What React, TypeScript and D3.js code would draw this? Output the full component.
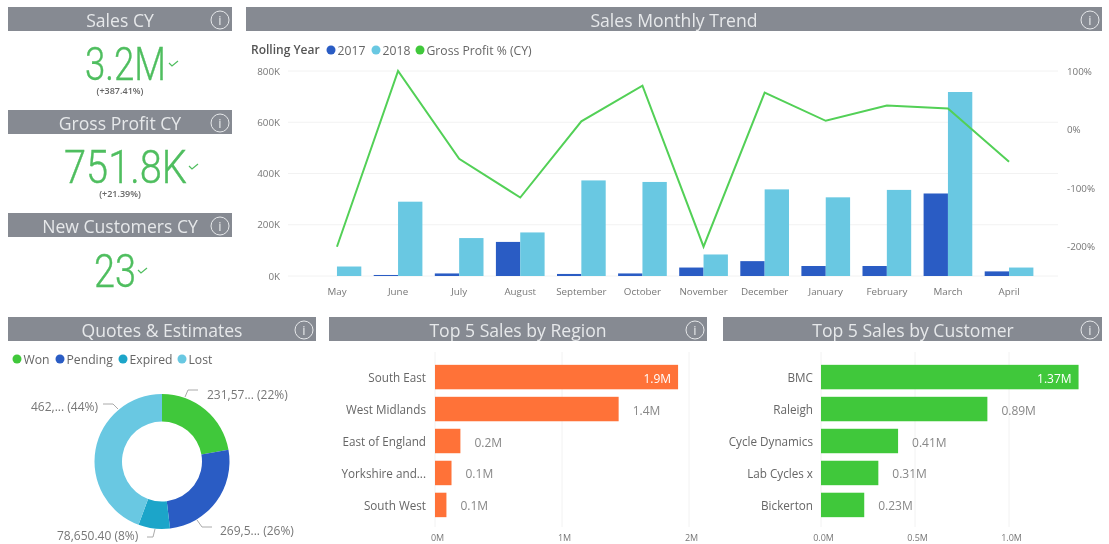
// Sales dashboard, drawn with D3 into one svg
import React, { useRef, useEffect } from 'react';
import * as d3 from 'd3';

const months = ["May", "June", "July", "August", "September", "October", "November", "December", "January", "February", "March", "April"];
const sales2017 = [0, 4, 10, 133, 8, 10, 33, 58, 39, 39, 322, 18];
const sales2018 = [37, 290, 148, 170, 373, 367, 84, 338, 307, 336, 718, 33];
const grossProfitPct = [-200, 100, -50, -116, 14, 75, -200, 63, 15, 41, 36, -55];
const salesTicks = [0, 200, 400, 600, 800];
const pctTicks = [-200, -100, 0, 100];

const quoteNames = ["Won", "Pending", "Expired", "Lost"];
const quoteValues = [231570, 269500, 78650.4, 462000];
const quoteColors = ["#41c83a", "#2a5cc4", "#1aa5c9", "#69c8e2"];

const regions = ["South East", "West Midlands", "East of England", "Yorkshire and...", "South West"];
const regionSales = [1.914, 1.446, 0.2, 0.13, 0.09];
const regionLabels = ["1.9M", "1.4M", "0.2M", "0.1M", "0.1M"];
const regionTicks = [0, 1, 2];

const customers = ["BMC", "Raleigh", "Cycle Dynamics", "Lab Cycles x", "Bickerton"];
const customerSales = [1.37, 0.885, 0.41, 0.305, 0.23];
const customerLabels = ["1.37M", "0.89M", "0.41M", "0.31M", "0.23M"];
const customerTicks = [0, 0.5, 1];

const FONT = "'Open Sans', sans-serif";
const TITLE = "#e6e8ea";
const BAND = "#868a92";
const BLUE = "#2a5cc4";
const SKY = "#69c8e2";
const GREEN = "#41c83a";
const KPI_GREEN = "#4fbe5f";
const GRID = "#f2f2f2";

const header = (g, title, x, y, w, titleX) => {
    g.append("rect").attr("x", x).attr("y", y).attr("width", w).attr("height", 24).attr("fill", BAND);
    g.append("text").attr("x", titleX).attr("y", y + 19.5).attr("text-anchor", "middle")
        .attr("font-size", 17.6).attr("fill", TITLE).text(title);
    // info icon
    g.append("circle").attr("cx", x + w - 12).attr("cy", y + 13).attr("r", 9)
        .attr("fill", "none").attr("stroke", TITLE).attr("stroke-width", 1);
    g.append("text").attr("x", x + w - 12).attr("y", y + 18).attr("text-anchor", "middle")
        .attr("font-size", 13).attr("fill", TITLE).text("i");
};

const kpi = (g, value, delta, cx, baseline, width, checkX, sub) => {
    g.append("text").attr("x", cx).attr("y", baseline).attr("text-anchor", "middle")
        .attr("font-family", "Roboto, sans-serif").attr("font-weight", 300).attr("font-size", 47)
        .attr("textLength", width).attr("lengthAdjust", "spacingAndGlyphs")
        .attr("stroke", KPI_GREEN).attr("stroke-width", 0.4)
        .attr("fill", KPI_GREEN).text(value);
    g.append("path")
        .attr("d", `M${checkX},${baseline - 17} l3,3 l6,-5`)
        .attr("fill", "none").attr("stroke", KPI_GREEN).attr("stroke-width", 1.2);
    if (delta) {
        g.append("text").attr("x", sub).attr("y", baseline + 14).attr("text-anchor", "middle")
            .attr("font-size", 9).attr("font-weight", 600).attr("fill", "#666").text(delta);
    }
};

const legendItem = (g, x, y, color, label, size = 12.2) => {
    g.append("circle").attr("cx", x).attr("cy", y).attr("r", 4.5).attr("fill", color);
    g.append("text").attr("x", x + 6.5).attr("y", y + 4.5).attr("font-size", size).attr("fill", "#666").text(label);
};

const hBars = (g, names, values, labels, ticks, tickFmt, color, x0, x1, domainMax, labelEnd) => {
    const x = d3.scaleLinear().domain([0, domainMax]).range([x0, x1]);
    const y = d3.scaleBand().domain(names).range([361, 521]).paddingInner(0.235).paddingOuter(0.12);

    g.append("g").selectAll("line").data(ticks).enter().append("line")
        .attr("x1", d => x(d)).attr("x2", d => x(d)).attr("y1", 352).attr("y2", 527)
        .attr("stroke", GRID);

    g.append("g").selectAll("rect").data(names).enter().append("rect")
        .attr("x", x0).attr("y", d => y(d))
        .attr("width", (d, i) => x(values[i]) - x0)
        .attr("height", y.bandwidth())
        .attr("fill", color);

    // axes, with the lines removed
    const left = g.append("g").attr("transform", `translate(${labelEnd + 6},1)`)
        .call(d3.axisLeft(y).tickSize(0).tickPadding(6));
    left.select(".domain").remove();
    left.selectAll("text").attr("font-family", FONT).attr("font-size", 11.7).attr("fill", "#666");

    const bottom = g.append("g").attr("transform", "translate(2,534.5)")
        .call(d3.axisBottom(x).tickValues(ticks).tickFormat(tickFmt).tickSize(0).tickPadding(0));
    bottom.select(".domain").remove();
    bottom.selectAll("text").attr("font-family", FONT).attr("font-size", 9).attr("fill", "#777");

    g.append("g").selectAll("text").data(names).enter().append("text")
        .attr("x", (d, i) => i === 0 ? x(values[i]) - 7 : x(values[i]) + 14)
        .attr("y", d => y(d) + y.bandwidth() / 2 + 5.5)
        .attr("text-anchor", (d, i) => i === 0 ? "end" : "start")
        .attr("font-size", 12)
        .attr("fill", (d, i) => i === 0 ? "#fff" : "#888")
        .text((d, i) => labels[i]);
};

const App = () => {
    const ref = useRef<SVGSVGElement>(null);

    useEffect(() => {
        const svg = d3.select(ref.current);
        svg.selectAll("*").remove();

        // the reference is a soft screenshot, so a slight blur on everything
        svg.append("defs").append("filter").attr("id", "soft")
            .append("feGaussianBlur").attr("stdDeviation", 0.7);
        const root = svg.append("g").attr("font-family", FONT).attr("filter", "url(#soft)");
        root.append("rect").attr("width", 1109).attr("height", 544).attr("fill", "#fff");

        // KPI cards
        header(root, "Sales CY", 8, 7, 224, 120);
        kpi(root, "3.2M", "(+387.41%)", 125.5, 80, 81, 169, 120);
        header(root, "Gross Profit CY", 8, 110, 224, 120);
        kpi(root, "751.8K", "(+21.39%)", 125.5, 183, 123, 189, 120);
        header(root, "New Customers CY", 8, 213, 224, 120);
        kpi(root, "23", null, 115, 287, 42, 138, 120);

        // monthly trend
        header(root, "Sales Monthly Trend", 246, 7, 856, 674);
        root.append("text").attr("x", 251).attr("y", 54).attr("font-size", 12).attr("font-weight", 600)
            .attr("fill", "#555").text("Rolling Year");
        legendItem(root, 331, 50, BLUE, "2017");
        legendItem(root, 376, 50, SKY, "2018");
        legendItem(root, 420, 50, GREEN, "Gross Profit % (CY)");

        const trend = root.append("g");
        const x = d3.scaleBand().domain(months).range([306.5, 1039.5]).paddingInner(0.203).paddingOuter(0.1);
        const y = d3.scaleLinear().domain([0, 800]).range([276, 71]);
        const yPct = d3.scaleLinear().domain([-250, 100]).range([276, 71]);
        const half = x.bandwidth() / 2;

        trend.append("g").selectAll("line").data(salesTicks).enter().append("line")
            .attr("x1", 288).attr("x2", 1058)
            .attr("y1", d => y(d)).attr("y2", d => y(d))
            .attr("stroke", GRID);

        trend.append("g").selectAll("rect").data(months).enter().append("rect")
            .attr("x", d => x(d))
            .attr("y", (d, i) => y(sales2017[i]))
            .attr("width", half)
            .attr("height", (d, i) => y(0) - y(sales2017[i]))
            .attr("fill", BLUE);
        trend.append("g").selectAll("rect").data(months).enter().append("rect")
            .attr("x", d => x(d) + half)
            .attr("y", (d, i) => y(sales2018[i]))
            .attr("width", half)
            .attr("height", (d, i) => y(0) - y(sales2018[i]))
            .attr("fill", SKY);

        const line = d3.line<number>()
            .x((d, i) => x(months[i]) + half)
            .y(d => yPct(d));
        trend.append("path").attr("d", line(grossProfitPct))
            .attr("fill", "none").attr("stroke", "#52d057").attr("stroke-width", 2);

        const axisL = trend.append("g").attr("transform", "translate(280,0)")
            .call(d3.axisLeft(y).tickValues(salesTicks).tickFormat(d => `${d}K`).tickSize(0).tickPadding(0));
        const axisR = trend.append("g").attr("transform", "translate(1067,0)")
            .call(d3.axisRight(yPct).tickValues(pctTicks).tickFormat(d => `${d}%`).tickSize(0).tickPadding(0));
        const axisB = trend.append("g").attr("transform", "translate(0,288)")
            .call(d3.axisBottom(x).tickSize(0).tickPadding(0));
        [axisL, axisR, axisB].forEach(a => {
            a.select(".domain").remove();
            a.selectAll("text").attr("font-family", FONT).attr("font-size", 9.8).attr("fill", "#777");
        });

        // quotes donut
        header(root, "Quotes & Estimates", 8, 317, 308, 162);
        legendItem(root, 17, 359, quoteColors[0], quoteNames[0]);
        legendItem(root, 60, 359, quoteColors[1], quoteNames[1]);
        legendItem(root, 123, 359, quoteColors[2], quoteNames[2]);
        legendItem(root, 182, 359, quoteColors[3], quoteNames[3]);

        const pie = d3.pie<number>().sort(null)(quoteValues);
        const arc = d3.arc<d3.PieArcDatum<number>>().innerRadius(40).outerRadius(67.5);
        root.append("g").attr("transform", "translate(162,461.5)")
            .selectAll("path").data(pie).enter().append("path")
            .attr("d", arc)
            .attr("fill", (d, i) => quoteColors[i]);

        const leaders = [
            { text: "231,57... (22%)", x: 207, y: 398.5, line: [[185, 397], [188, 390], [198, 390]] },
            { text: "269,5... (26%)", x: 220, y: 534.5, line: [[197, 520], [202, 527], [212, 527]] },
            { text: "78,650.40 (8%)", x: 57, y: 540, line: [[147, 537], [153, 537], [155, 529]] },
            { text: "462,... (44%)", x: 31, y: 411, line: [[103, 404], [113, 404], [118, 409]] },
        ];
        leaders.forEach(l => {
            root.append("path").attr("d", d3.line()(l.line)).attr("fill", "none").attr("stroke", "#aaa");
            root.append("text").attr("x", l.x).attr("y", l.y).attr("font-size", 12).attr("fill", "#777").text(l.text);
        });

        // top 5 bars
        header(root, "Top 5 Sales by Region", 329, 317, 378, 518);
        hBars(root, regions, regionSales, regionLabels, regionTicks, d => `${d}M`, "#ff7238", 435, 689, 2, 426);

        header(root, "Top 5 Sales by Customer", 723, 317, 379, 913);
        hBars(root, customers, customerSales, customerLabels, customerTicks, d => `${d3.format(".1f")(d)}M`, GREEN, 821, 1009, 1, 813);
    }, []);

    return <svg ref={ref} width={1109} height={544} style={{ position: "absolute", left: 0, top: 0 }}></svg>;
};

export default App;
